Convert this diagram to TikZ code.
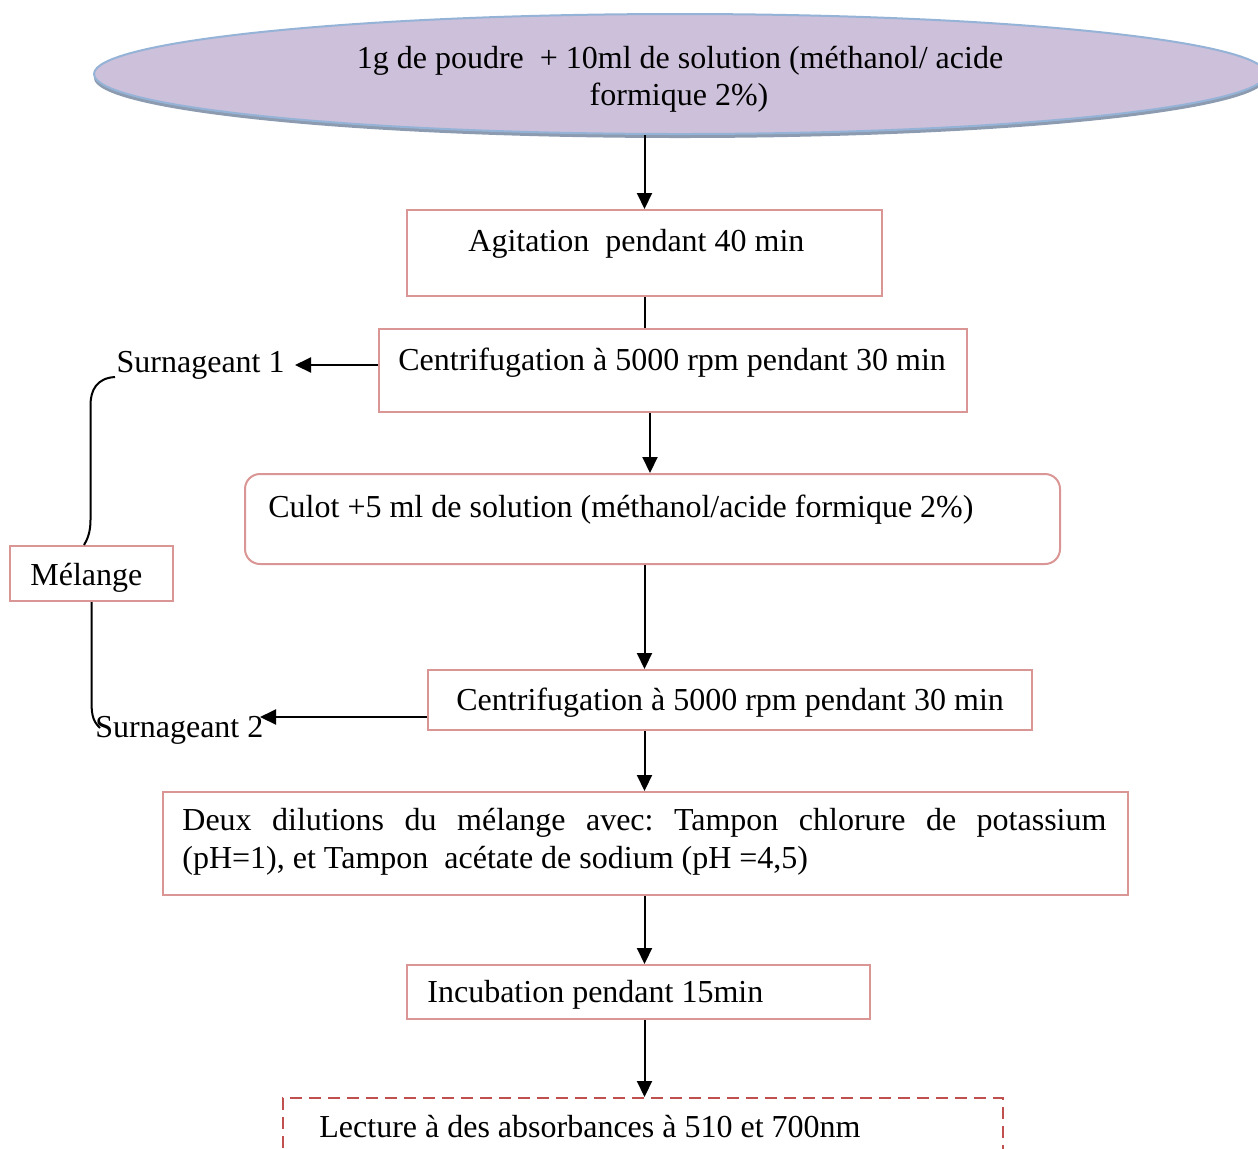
\documentclass[tikz,border=0pt]{standalone}
\usepackage{fontspec}
\setmainfont{Liberation Serif}
\usetikzlibrary{arrows.meta,shapes.geometric}
\definecolor{boxred}{HTML}{D99694}
\definecolor{dashred}{HTML}{C0504D}
\definecolor{ellfill}{HTML}{CCC0DA}
\definecolor{elledge}{HTML}{95B3D7}
\definecolor{ellshadow}{HTML}{8C9BB0}
\frenchspacing
\begin{document}
\begin{tikzpicture}[x=0.5pt,y=-0.5pt,
  box/.style={draw=boxred,line width=1pt,inner sep=0pt,anchor=north west},
  txt/.style={inner sep=0pt,font=\fontsize{16}{18.5}\selectfont,anchor=base west},
  arr/.style={line width=1pt,-{Triangle[length=8pt,width=7.5pt]}},
  con/.style={line width=1pt}]
\useasboundingbox (0,0) rectangle (1258,1148);
\clip (0,0) rectangle (1258,1148);
% top ellipse
\node[ellipse, fill=ellshadow, minimum width=586pt, minimum height=60pt, inner sep=0pt] (ellsh) at (680,78) {};
\node[ellipse, draw=elledge, line width=1pt, fill=ellfill, minimum width=586pt, minimum height=60pt, inner sep=0pt] (ell) at (680,74) {};
\node[txt, anchor=base] (e1) at (680,68) {1g de poudre~ + 10ml de solution (méthanol/ acide};
\node[txt, anchor=base] (e2) at (679,105) {formique 2\%)};
% boxes
\node[box, minimum width=237.5pt, minimum height=43pt] (agit) at (406,209) {};
\node[txt] (agitT) at (468,251) {Agitation~ pendant 40 min};
\node[box, minimum width=294pt, minimum height=41.5pt] (cent1) at (378,328) {};
\node[txt] (cent1T) at (398,370) {Centrifugation à 5000 rpm pendant 30 min};
\node[box, rounded corners=7.5pt, minimum width=407.5pt, minimum height=45pt] (culot) at (244,473) {};
\node[txt] (culotT) at (268,517) {Culot +5 ml de solution (méthanol/acide formique 2\%)};
\node[box, minimum width=302pt, minimum height=30pt] (cent2) at (427,669) {};
\node[txt] (cent2T) at (456,710) {Centrifugation à 5000 rpm pendant 30 min};
\node[box, minimum width=81.5pt, minimum height=27.5pt] (mel) at (9,545) {};
\node[txt] (melT) at (30,585) {Mélange};
\node[box, minimum width=482.5pt, minimum height=51.5pt] (deux) at (162,791) {};
\node[txt] (deux1) at (182,830) {\makebox[462pt][s]{Deux dilutions du mélange avec: Tampon chlorure de potassium}};
\node[txt] (deux2) at (182,868) {(pH=1), et Tampon~ acétate de sodium (pH =4,5)};
\node[box, minimum width=231.5pt, minimum height=27pt] (incub) at (406,964) {};
\node[txt] (incubT) at (427,1002) {Incubation pendant 15min};
\node[box, draw=dashred, dash pattern=on 6pt off 3.5pt, minimum width=360pt, minimum height=40pt] (lect) at (282,1097) {};
\node[txt] (lectT) at (319,1137) {Lecture à des absorbances à 510 et 700nm};
% side labels
\node[txt, anchor=east, inner xsep=5pt] (surn1) at (295,365) {Surnageant 1};
\node[txt] (surn2) at (95,737) {Surnageant 2};
\coordinate (s2tip) at (260,717);
\coordinate (c1b) at ([xshift=136pt]cent1.south west);
\coordinate (b1) at (115,377);
\coordinate (b2) at (100,728);
\coordinate (mb) at (mel.south);
% connectors
\draw[arr] (ell.south -| agit.north) -- (agit.north);
\draw[con] (agit.south) -- (agit.south |- cent1.north);
\draw[arr] (cent1.west |- surn1.east) -- (surn1.east);
\draw[arr] (c1b) -- (c1b |- culot.north);
\draw[arr] (culot.south -| agit.south) -- (agit.south |- cent2.north);
\draw[arr] (cent2.west |- s2tip) -- (s2tip);
\draw[arr] (cent2.south -| agit.south) -- (agit.south |- deux.north);
\draw[arr] (deux.south -| agit.south) -- (agit.south |- incub.north);
\draw[arr] (incub.south -| agit.south) -- (agit.south |- lect.north);
% bracket
\draw[con] (b1) .. controls (97,378) and (90.5,390) .. (90.5,405) -- (90.5,520) .. controls (90.5,533) and (87,540) .. ([xshift=-3.75pt]mel.north);
\draw[con] (mb) -- ([yshift=-50pt]mb) .. controls ([yshift=-57.5pt]mb) and (94,722) .. (b2);
\end{tikzpicture}
\end{document}
